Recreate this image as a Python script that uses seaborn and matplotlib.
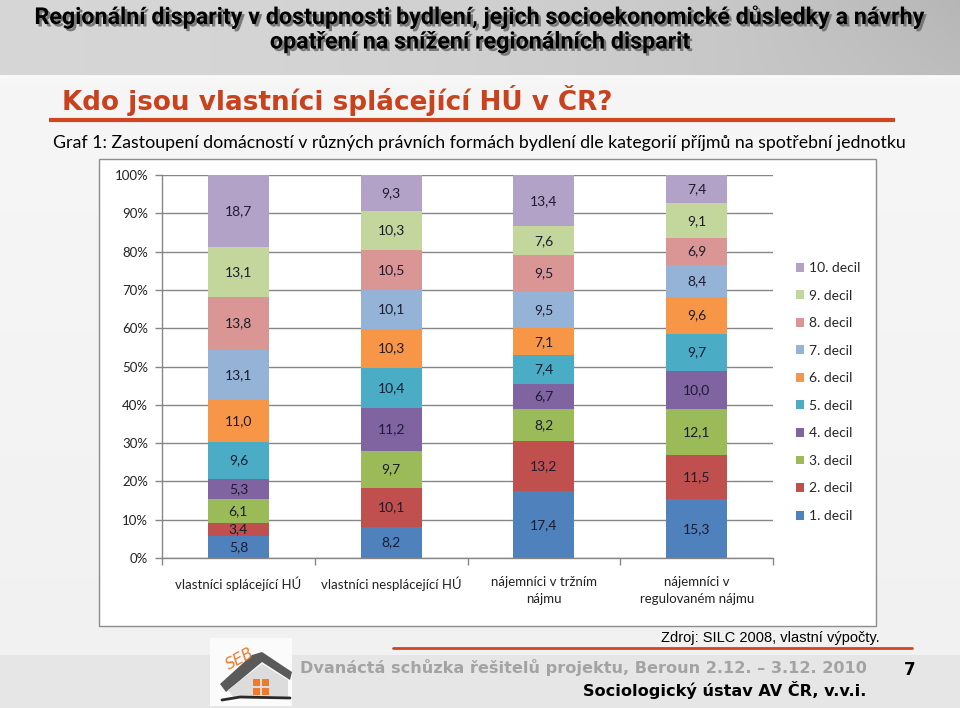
import numpy as np
import pandas as pd
import matplotlib
matplotlib.use("Agg")
import matplotlib.pyplot as plt
import matplotlib.patheffects as pe
import seaborn as sns
from matplotlib.patches import Rectangle, Polygon

# ---------------- data ----------------
categories = ["vlastníci splácející HÚ", "vlastníci nesplácející HÚ",
              "nájemníci v tržním\nnájmu", "nájemníci v\nregulovaném nájmu"]
deciles = [f"{i}. decil" for i in range(1, 11)]
vals_splacejici = [5.8, 3.4, 6.1, 5.3, 9.6, 11.0, 13.1, 13.8, 13.1, 18.7]
vals_nesplacejici = [8.2, 10.1, 9.7, 11.2, 10.4, 10.3, 10.1, 10.5, 10.3, 9.3]
vals_trzni = [17.4, 13.2, 8.2, 6.7, 7.4, 7.1, 9.5, 9.5, 7.6, 13.4]
vals_regulovany = [15.3, 11.5, 12.1, 10.0, 9.7, 9.6, 8.4, 6.9, 9.1, 7.4]
decile_colors = ["#4F81BD", "#C0504D", "#9BBB59", "#8064A2", "#4BACC6",
                 "#F79646", "#95B3D7", "#D99694", "#C3D69B", "#B3A2C7"]
yticks = [0, 10, 20, 30, 40, 50, 60, 70, 80, 90, 100]
ytick_labels = [f"{v}%" for v in yticks]

all_vals = [vals_splacejici, vals_nesplacejici, vals_trzni, vals_regulovany]
rows = []
for cat, vals in zip(categories, all_vals):
    tot = sum(vals)
    for d, v in zip(deciles, vals):
        rows.append({"kategorie": cat, "decil": d, "hodnota": v, "pct": v / tot * 100})
df = pd.DataFrame(rows)

# ---------------- figure ----------------
sns.set_theme(style="white")
plt.rcParams["font.family"] = ["Lato", "DejaVu Sans"]

W, H = 960, 708
fig = plt.figure(figsize=(W / 100, H / 100), dpi=100)
renderer = fig.canvas.get_renderer()

bg = fig.add_axes([0, 0, 1, 1], zorder=0)
bg.set_xlim(0, W)
bg.set_ylim(H, 0)
bg.axis("off")

# slide background
xx = np.linspace(0, 1, 400)
yy = np.linspace(0, 1, 300)
X, Y = np.meshgrid(xx, yy)
base = 0.965 - 0.02 * Y
bg.imshow(np.dstack([base] * 3), extent=(0, W, H, 76), aspect="auto", zorder=0)
hdr = 0.84 - 0.10 * X ** 2 - 0.10 * np.clip(X - 0.75, 0, 1) * (1 - Y)
bg.imshow(np.dstack([hdr] * 3), extent=(0, W, 76, 0), aspect="auto", zorder=0)
bg.add_patch(Rectangle((0, 655), W, 53, facecolor="#E6E6E6", edgecolor="none", zorder=0.5))
bg.plot([0, W], [76, 76], color="#FAFAFA", lw=2, zorder=1)


def fit(t, width):
    bb = t.get_window_extent(renderer)
    t.set_fontsize(t.get_fontsize() * width / bb.width)
    return t.get_fontsize()


# header
hfam = ["Liberation Sans Narrow", "Roboto", "DejaVu Sans"]
shadow = [pe.withSimplePatchShadow(offset=(1.8, -1.8), shadow_rgbFace="#6A6A6A", alpha=0.85)]
h1 = "Regionální disparity v dostupnosti bydlení, jejich socioekonomické důsledky a návrhy"
h2 = "opatření na snížení regionálních disparit"
t1 = bg.text(479, 17, h1, ha="center", va="center", fontsize=14, fontweight="bold",
             family=hfam, color="black", zorder=3, path_effects=shadow)
fs = fit(t1, 892)
t2 = bg.text(480, 42, h2, ha="center", va="center", fontsize=fs, fontweight="bold",
             family=hfam, color="black", zorder=3, path_effects=shadow)

# title
tt = bg.text(62, 101, "Kdo jsou vlastníci splácející HÚ v ČR?", ha="left", va="center",
             fontsize=18, fontweight="bold", family=["DejaVu Sans"], color="#C8421E", zorder=3)
fit(tt, 550)
bg.plot([49, 895], [120, 120], color="#D0461E", lw=3, solid_capstyle="butt", zorder=3)

st = bg.text(479, 143, "Graf 1: Zastoupení domácností v různých právních formách bydlení dle kategorií příjmů na spotřební jednotku",
             ha="center", va="center", fontsize=12, family=["Lato", "DejaVu Sans"], color="black", zorder=3)
fit(st, 848)

# chart frame
bg.add_patch(Rectangle((99, 159), 777, 467, facecolor="white", edgecolor="#8C8C8C", lw=1, zorder=1))

# footer
zt = bg.text(880, 638, "Zdroj: SILC 2008, vlastní výpočty.", ha="right", va="center",
             fontsize=9.5, family=["Liberation Sans", "DejaVu Sans"], color="black", zorder=3)
fit(zt, 217)
bg.plot([393, 912], [648, 648], color="#D0461E", lw=2, zorder=3)
f1 = bg.text(300, 668, "Dvanáctá schůzka řešitelů projektu, Beroun 2.12. – 3.12. 2010", ha="left",
             va="center", fontsize=11, fontweight="bold", family=["DejaVu Sans"], color="#A3A3A3", zorder=3)
fit(f1, 566)
f2 = bg.text(866, 690, "Sociologický ústav AV ČR, v.v.i.", ha="right", va="center",
             fontsize=11, fontweight="bold", family=["DejaVu Sans"], color="black", zorder=3)
fit(f2, 281)
bg.text(910, 670, "7", ha="center", va="center", fontsize=12, fontweight="bold",
        family=["DejaVu Sans"], color="black", zorder=3)

# logo (simple house sketch)
bg.add_patch(Rectangle((210, 638), 82, 68, facecolor="#FBFBFB", edgecolor="none", zorder=2))
bg.add_patch(Polygon([(220, 684), (252, 655), (262, 652), (292, 672), (290, 680), (262, 662), (226, 692)],
                     closed=True, facecolor="#5A5A5A", edgecolor="none", zorder=3))
bg.add_patch(Polygon([(228, 690), (262, 664), (288, 680), (288, 698), (234, 698)],
                     closed=True, facecolor="#DCDCDC", edgecolor="none", zorder=3))
for wx in (253, 262):
    for wy in (679, 688):
        bg.add_patch(Rectangle((wx, wy), 7, 7, facecolor="#F07A2A", edgecolor="none", zorder=4))
bg.plot([222, 240, 290], [700, 697, 698], color="#2A2A2A", lw=2, zorder=4)
bg.text(240, 659, "SEB", ha="center", va="center", fontsize=11, style="italic", rotation=28,
        color="#F07A2A", family=["DejaVu Sans"], zorder=4)

# ---------------- chart ----------------
ax = fig.add_axes([162 / W, 1 - 558 / H, 611 / W, 383 / H], zorder=2)
ax.set_facecolor("white")
palette = dict(zip(deciles, decile_colors))
sns.histplot(data=df, x="kategorie", hue="decil", weights="pct", multiple="stack",
             discrete=True, shrink=0.4, hue_order=deciles[::-1], palette=palette,
             alpha=1, linewidth=0, edgecolor="none", ax=ax, legend=True)

for i, vals in enumerate(all_vals):
    tot = sum(vals)
    cum = 0.0
    for v in vals:
        p = v / tot * 100
        ax.text(i, cum + p / 2, f"{v:.1f}".replace(".", ","), ha="center", va="center",
                fontsize=10, color="#1C1C30", zorder=5)
        cum += p

ax.set_xlim(-0.5, 3.5)
ax.set_ylim(0, 100)
ax.set_yticks(yticks)
ax.set_yticklabels(ytick_labels)
ax.set_xticks(range(len(categories)))
ax.set_xticklabels(categories, fontsize=9.5, color="#222222", linespacing=1.5)
ax.set_xticks([-0.5, 0.5, 1.5, 2.5, 3.5], minor=True)
ax.tick_params(axis="x", which="major", length=0, pad=13)
ax.tick_params(axis="x", which="minor", length=5, color="#868686", width=1, direction="out", bottom=True)
ax.tick_params(axis="y", length=5, color="#868686", width=1, direction="out", left=True,
               labelsize=9.5, labelcolor="#222222", pad=5)
ax.yaxis.grid(True, color="#868686", lw=1)
ax.xaxis.grid(False)
ax.set_axisbelow(True)
for s in ["top", "right"]:
    ax.spines[s].set_visible(False)
for s in ["left", "bottom"]:
    ax.spines[s].set_color("#868686")
    ax.spines[s].set_linewidth(1)
ax.set_xlabel("")
ax.set_ylabel("")

sns.move_legend(ax, "upper left", bbox_to_anchor=(796 / W, 1 - 262 / H), bbox_transform=fig.transFigure,
                frameon=False, title=None, fontsize=10, handlelength=0.6, handleheight=0.6,
                labelspacing=1.12, handletextpad=0.35, borderpad=0, borderaxespad=0)

fig.savefig("out.png", dpi=100)
